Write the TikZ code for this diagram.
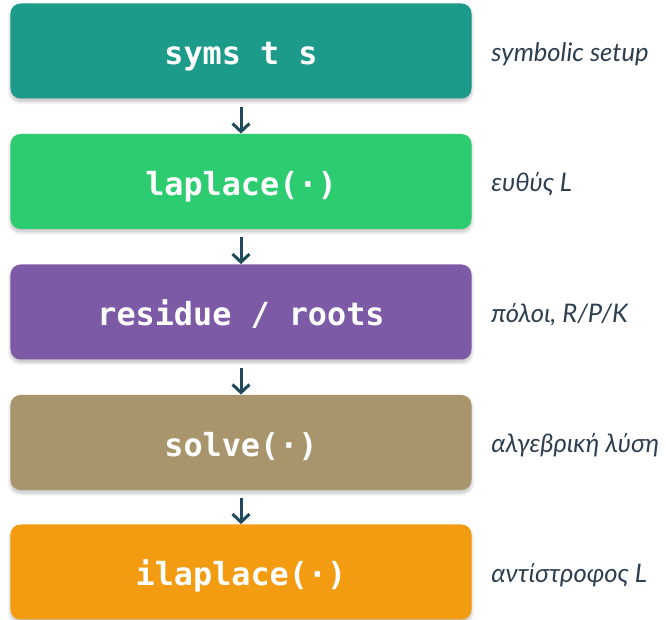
\documentclass[tikz,border=0pt]{standalone}
\usepackage{fontspec}
\usepackage{xcolor}
\usepackage{tikz}
\usetikzlibrary{arrows.meta,shadows.blur}

\newfontfamily\codefont{DejaVu Sans Mono}
\newfontfamily\notefont{Lato}

\definecolor{stepteal}{HTML}{1C9A8A}
\definecolor{stepgreen}{HTML}{2ECC71}
\definecolor{steppurple}{HTML}{7D5AA6}
\definecolor{stepkhaki}{HTML}{A8956B}
\definecolor{steporange}{HTML}{F39C12}
\definecolor{arrowblue}{HTML}{1F4A5C}
\definecolor{notegray}{HTML}{2C3E50}

\begin{document}
\begin{tikzpicture}[x=0.5pt, y=-0.5pt,
  stage/.style={rounded corners=5pt, minimum width=230.5pt, minimum height=47.5pt,
                inner sep=0pt, text=white, text height=14pt, text depth=0pt,
                font=\codefont\bfseries\fontsize{15.9}{18}\selectfont,
                blur shadow={shadow blur steps=8, shadow xshift=0pt,
                             shadow yshift=-1.5pt, shadow opacity=25}},
  note/.style={anchor=base west, inner sep=0pt, text=notegray,
               font=\notefont\itshape\fontsize{12.8}{15}\selectfont},
  arr/.style={-{Straight Barb[length=4pt,width=8.5pt]}, line width=1.5pt,
              draw=arrowblue, shorten <=4pt},
]
  \useasboundingbox (0,0) rectangle (666,620);
  %% pipeline stages
  \node[stage, fill=stepteal]   (syms)  at (241,51)    {syms t s};
  \node[stage, fill=stepgreen]  (lap)   at (241,181.5) {laplace(·)};
  \node[stage, fill=steppurple] (res)   at (241,312)   {residue / roots};
  \node[stage, fill=stepkhaki]  (solv)  at (241,442.5) {solve(·)};
  \node[stage, fill=steporange] (ilap)  at (241,572)   {ilaplace(·)};
  %% side notes
  \node[note] (nsyms) at (491,61.5)  {symbolic setup};
  \node[note] (nlap)  at (491,192)   {ευθύς L};
  \node[note] (nres)  at (491,322.5) {πόλοι, R/P/K};
  \node[note] (nsolv) at (491,453)   {αλγεβρική λύση};
  \node[note] (nilap) at (491,582.5) {αντίστροφος L};
  %% flow
  \draw[arr] (syms) -- (lap);
  \draw[arr] (lap)  -- (res);
  \draw[arr] (res)  -- (solv);
  \draw[arr] (solv) -- (ilap);
\end{tikzpicture}
\end{document}
